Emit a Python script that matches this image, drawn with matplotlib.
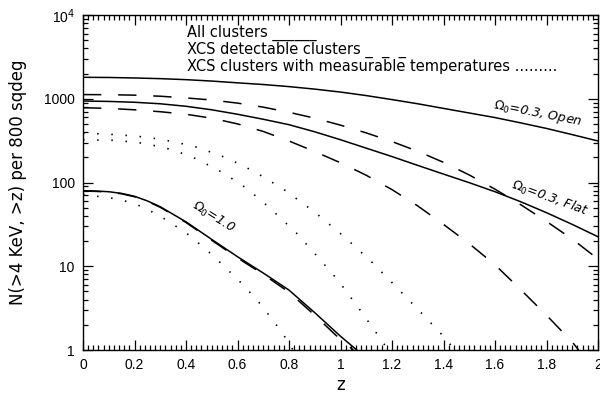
#!/usr/bin/env python3
# -*- coding: utf-8 -*-
"""
Kumulative Clusterzahlen N(>4 keV, >z) pro 800 sqdeg für drei Kosmologien.
Durchgezogen: alle Cluster, gestrichelt: XCS-detektierbar,
gepunktet: XCS mit messbarer Temperatur.
"""
import matplotlib
matplotlib.use("Agg")
import matplotlib.pyplot as plt
from matplotlib.ticker import MultipleLocator, FixedLocator, FixedFormatter, LogLocator, NullFormatter

plt.rcParams["font.family"] = ["Liberation Sans", "DejaVu Sans"]
plt.rcParams["mathtext.fontset"] = "dejavusans"

# ───────────────────────────────────────────────────────────────────────
# Daten
# ───────────────────────────────────────────────────────────────────────
z_grid = [0, 0.1, 0.2, 0.3, 0.4, 0.5, 0.6, 0.7, 0.8, 0.9, 1.0,
          1.1, 1.2, 1.3, 1.4, 1.5, 1.6, 1.7, 1.8, 1.9, 2.0]

# alle Cluster
all_open = [1803, 1795, 1770, 1738, 1690, 1626, 1549, 1479, 1396, 1303, 1202,
            1091, 977, 871, 767, 676, 596, 515, 442, 373, 313]
all_flat = [940, 929, 908, 871, 813, 738, 653, 569, 490, 403, 324,
            257, 204, 160, 126, 99.5, 77.6, 58.9, 43.6, 31.6, 22.5]
z_all_e1 = [0, 0.05, 0.1, 0.15, 0.2, 0.25, 0.3, 0.4, 0.5, 0.6, 0.7,
            0.8, 0.9, 1.0, 1.063]
all_e1 = [79.8, 79.1, 77.6, 74.1, 68.4, 60.3, 51.3, 33.9, 20.9, 13.0, 8.3,
          5.19, 2.79, 1.46, 1.0]

# XCS detektierbar
det_open = [1122, 1117, 1104, 1072, 1023, 966, 887, 794, 689, 586, 484,
            391, 308, 236, 174, 123, 83.2, 54.3, 34.3, 21.1, 12.2]
z_det_flat = [0, 0.1, 0.2, 0.3, 0.4, 0.5, 0.6, 0.7, 0.8, 0.9, 1.0,
              1.1, 1.2, 1.3, 1.4, 1.5, 1.6, 1.7, 1.8, 1.9, 1.925]
det_flat = [782, 767, 738, 700, 653, 586, 501, 407, 313, 234, 172,
            122, 82.2, 52.5, 31.6, 18.6, 10.4, 5.25, 2.60, 1.245, 1.0]
z_det_e1 = [0, 0.05, 0.1, 0.15, 0.2, 0.25, 0.3, 0.4, 0.5, 0.6, 0.7,
            0.8, 0.9, 1.0, 1.05]
det_e1 = [79, 78.3, 76.8, 73.3, 67.6, 59.6, 50.6, 33.3, 20.4, 12.6, 8.0,
          4.9, 2.6, 1.33, 1.0]

# XCS mit messbarer Temperatur
z_tx_open = [0, 0.106, 0.203, 0.298, 0.392, 0.435, 0.529, 0.616, 0.700,
             0.784, 0.901, 1.011, 1.117, 1.218, 1.319, 1.419, 1.44]
tx_open = [388, 376, 359, 330, 288, 268, 213, 162, 117,
           81, 44, 23, 11.6, 5.6, 2.67, 1.26, 1.0]
z_tx_flat = [0, 0.123, 0.217, 0.313, 0.405, 0.444, 0.535, 0.614, 0.690,
             0.762, 0.830, 0.894, 0.989, 1.076, 1.160, 1.185]
tx_flat = [322, 319, 299, 263, 213, 189, 135, 95, 62,
           39, 24.7, 14.9, 6.9, 3.0, 1.3, 1.0]
z_tx_e1 = [0, 0.144, 0.234, 0.322, 0.403, 0.478, 0.548, 0.616, 0.681,
           0.739, 0.797, 0.815]
tx_e1 = [72, 63, 51, 36, 24.7, 15.9, 10, 6.25, 3.78, 2.24, 1.26, 1.0]

y_ticks = [1, 10, 100, 1000, 1e4]
y_ticklabels = ["1", "10", "100", "1000", r"10$^4$"]

legend_lines = [
    "All clusters ______",
    "XCS detectable clusters _  _  _",
    "XCS clusters with measurable temperatures .........",
]

# ───────────────────────────────────────────────────────────────────────
# Plot
# ───────────────────────────────────────────────────────────────────────
fig = plt.figure(figsize=(6.0, 3.96), dpi=100)
ax = fig.add_axes([83 / 600, 1 - 350 / 396, 515 / 600, 335 / 396])

lw = 1.1
dash = (0, (12, 11))
dot = (0, (0.9, 7.6))

ax.plot(z_grid, all_open, color="black", lw=lw)
ax.plot(z_grid, all_flat, color="black", lw=lw)
ax.plot(z_all_e1, all_e1, color="black", lw=lw)

ax.plot(z_grid, det_open, color="black", lw=lw, linestyle=dash)
ax.plot(z_det_flat, det_flat, color="black", lw=lw, linestyle=dash)
ax.plot(z_det_e1, det_e1, color="black", lw=lw, linestyle=dash)

ax.plot(z_tx_open, tx_open, color="black", lw=1.2, linestyle=dot)
ax.plot(z_tx_flat, tx_flat, color="black", lw=1.2, linestyle=dot)
ax.plot(z_tx_e1, tx_e1, color="black", lw=1.2, linestyle=dot)

ax.set_yscale("log")
ax.set_xlim(0, 2)
ax.set_ylim(1, 1e4)

ax.xaxis.set_major_locator(MultipleLocator(0.2))
ax.xaxis.set_minor_locator(MultipleLocator(0.02))
ax.xaxis.set_major_formatter(plt.FuncFormatter(lambda v, p: f"{v:g}"))
ax.yaxis.set_major_locator(FixedLocator(y_ticks))
ax.yaxis.set_major_formatter(FixedFormatter(y_ticklabels))
ax.yaxis.set_minor_locator(LogLocator(base=10, subs=range(2, 10)))
ax.yaxis.set_minor_formatter(NullFormatter())

ax.tick_params(which="both", direction="in", top=True, right=True,
               labelsize=10, width=0.9, pad=6)
ax.tick_params(which="major", length=7)
ax.tick_params(which="minor", length=3.5)
for sp in ax.spines.values():
    sp.set_linewidth(1.0)

ax.set_xlabel("z", fontsize=12, family="DejaVu Sans", labelpad=3)
ax.set_ylabel("N(>4 KeV, >z) per 800 sqdeg", fontsize=12,
              family="DejaVu Sans", labelpad=12)

# Legende als Text
for i, txt in enumerate(legend_lines):
    fig.text(187 / 600, 1 - (33 + 16.5 * i) / 396, txt, fontsize=10.5,
             family="DejaVu Sans", ha="left", va="center")

# Kurvenbeschriftungen
lab = dict(fontsize=9.2, style="italic", ha="center", va="center",
           rotation_mode="anchor", family="DejaVu Sans")
ax.text(1.767, 655, r"$\Omega_0$=0.3, Open", rotation=-11, **lab)
ax.text(1.814, 65, r"$\Omega_0$=0.3, Flat", rotation=-20, **lab)
ax.text(0.505, 38, r"$\Omega_0$=1.0", rotation=-32, **lab)

plt.savefig("out.png", dpi=100)
